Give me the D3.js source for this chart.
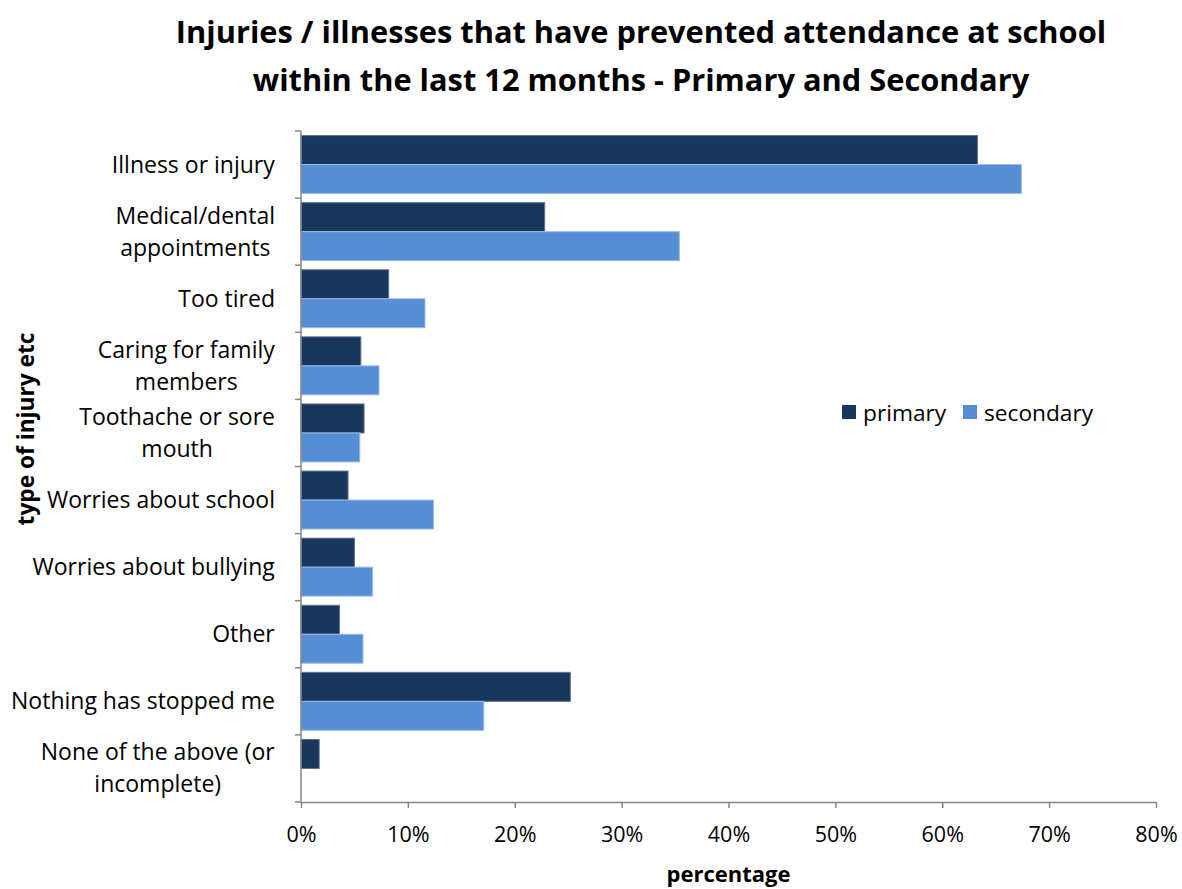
<!DOCTYPE html>
<html><head><meta charset="utf-8">
<script src="https://cdn.jsdelivr.net/npm/d3@7"></script>
<style>html,body{margin:0;padding:0;background:#fff;} svg{display:block;font-family:"Open Sans",Lato,sans-serif;}</style>
</head><body>
<svg id="c" width="1182" height="889"></svg>
<script>
const categories = [
  ["Illness or injury"],
  ["Medical/dental","appointments "],
  ["Too tired"],
  ["Caring for family","members"],
  ["Toothache or sore","mouth"],
  ["Worries about school"],
  ["Worries about bullying"],
  ["Other"],
  ["Nothing has stopped me"],
  ["None of the above (or","incomplete)"]
];
const primary   = [63.3, 22.8, 8.2, 5.6, 5.9, 4.4, 5.0, 3.6, 25.2, 1.7];
const secondary = [67.4, 35.4, 11.6, 7.3, 5.5, 12.4, 6.7, 5.8, 17.1, 0];
const seriesNames = ["primary","secondary"];
const colors = ["#17375E","#558ED5"];
const strokes = ["#5f7290","#9dbde6"];
const xTicks = [0,10,20,30,40,50,60,70,80];
const titleLines = ["Injuries / illnesses that have prevented attendance at school","within the last 12 months - Primary and Secondary"];

const svg = d3.select("#c");
const L=301, R=1156, T=131, B=802;
const ids = categories.map((c,i)=>i);
const x = d3.scaleLinear().domain([0,80]).range([L,R]);
const y = d3.scaleBand().domain(ids).range([T,B]).paddingInner(0.136).paddingOuter(0.068);
const ys = d3.scaleBand().domain(seriesNames).range([0,y.bandwidth()]);

// title
svg.append("g").selectAll("text").data(titleLines).join("text")
  .attr("x",641).attr("y",(d,i)=>43+i*48).attr("text-anchor","middle")
  .attr("font-size",30.8).attr("font-weight","bold").attr("fill","#000").text(d=>d);

// bars
const data = [primary, secondary];
data.forEach((vals,si)=>{
  svg.append("g").selectAll("rect").data(vals).join("rect")
    .attr("x",x(0)).attr("y",(d,i)=>y(i)+ys(seriesNames[si]))
    .attr("width",d=>Math.max(0,x(d)-x(0))).attr("height",ys.bandwidth())
    .attr("fill",colors[si]).attr("stroke",d=>d>0?strokes[si]:"none").attr("stroke-width",1);
});

// axes
const axc = "#868686";
const xAxis = d3.axisBottom(x).tickValues(xTicks).tickFormat(d=>d+"%").tickSize(6).tickSizeOuter(0);
const gx = svg.append("g").attr("transform",`translate(0,${B})`).call(xAxis);
gx.select(".domain").attr("stroke",axc).attr("stroke-width",1.5);
gx.selectAll(".tick line").attr("stroke",axc).attr("stroke-width",1.5);
gx.selectAll(".tick text").attr("font-size",21.5).attr("fill","#000").attr("font-family","'Open Sans',sans-serif").attr("dy","1.45em");

const gy = svg.append("g");
gy.append("line").attr("x1",L).attr("x2",L).attr("y1",T).attr("y2",B).attr("stroke",axc).attr("stroke-width",1.5);
const bounds = d3.range(categories.length+1).map(i=> i<categories.length ? y(i)-y.step()*y.paddingInner()/2 : B);
gy.selectAll("line.t").data(bounds).join("line").attr("class","t")
  .attr("x1",L-6).attr("x2",L).attr("y1",d=>d).attr("y2",d=>d).attr("stroke",axc).attr("stroke-width",1.5);

// category labels
const lh = 32;
categories.forEach((lines,i)=>{
  const cy = y(i)+y.bandwidth()/2;
  const g = svg.append("g");
  const t = g.append("text").attr("font-size",23).attr("fill","#000").attr("text-anchor","middle");
  lines.forEach((ln,j)=>{
    t.append("tspan").attr("x",0).attr("y",cy + (j-(lines.length-1)/2)*lh + 8).text(ln);
  });
  const w = t.node().getBBox().width;
  t.attr("transform",`translate(${275 - w/2},0)`);
});

// axis titles
svg.append("text").attr("x",(L+R)/2).attr("y",882).attr("text-anchor","middle")
  .attr("font-size",22).attr("font-weight","bold").text("percentage");
svg.append("text").attr("transform","translate(34,429) rotate(-90)").attr("text-anchor","middle")
  .attr("font-size",22.7).attr("font-weight","bold").text("type of injury etc");

// legend
const lg = svg.append("g");
const items = [{n:"primary",c:colors[0],x:842},{n:"secondary",c:colors[1],x:963}];
items.forEach(it=>{
  lg.append("rect").attr("x",it.x).attr("y",405).attr("width",14).attr("height",14).attr("fill",it.c);
  lg.append("text").attr("x",it.x+21).attr("y",421).attr("font-size",22.7).text(it.n);
});
</script>
</body></html>
